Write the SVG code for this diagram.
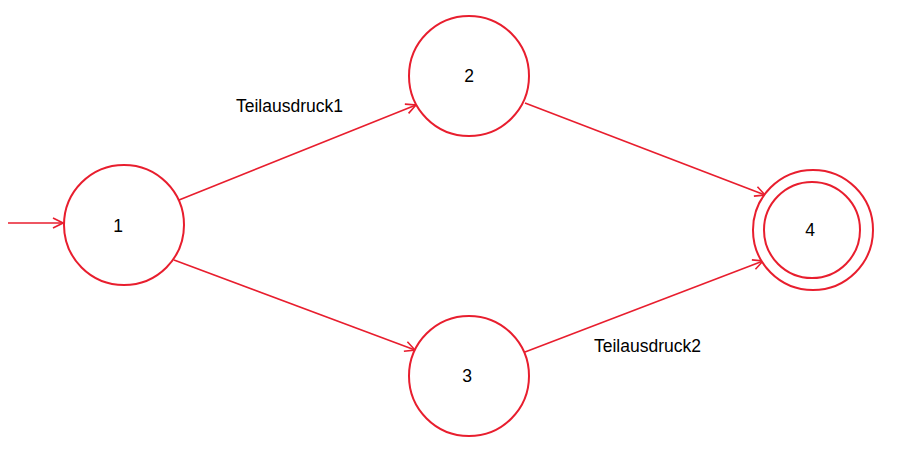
<svg xmlns="http://www.w3.org/2000/svg" width="897" height="449" viewBox="0 0 897 449">
<style>
.st{fill:#fff;stroke:#E81E2E;stroke-width:2}
.ed{stroke:#E81E2E;stroke-width:1.6;fill:none;marker-end:url(#ah)}
.t{font-family:"Liberation Sans",Arial,sans-serif;font-size:17.5px;fill:#000}
.n{text-anchor:middle}
</style>
<defs>
<marker id="ah" viewBox="0 0 12 12" refX="11" refY="6" markerWidth="12" markerHeight="12" markerUnits="userSpaceOnUse" orient="auto">
<path d="M1,1 L11,6 L1,11" fill="none" stroke="#E81E2E" stroke-width="1.6"/>
</marker>
</defs>
<rect width="897" height="449" fill="#fff"/>
<g id="connectors">
<line class="ed" x1="8" y1="223" x2="63" y2="223"/>
<line class="ed" x1="179" y1="200" x2="416" y2="105"/>
<line class="ed" x1="174" y1="260" x2="415" y2="350"/>
<line class="ed" x1="525" y1="103" x2="765" y2="195"/>
<line class="ed" x1="525" y1="352" x2="763" y2="261"/>
</g>
<g id="node1"><circle class="st" cx="124" cy="225" r="60"/><text class="t n" x="118" y="232">1</text></g>
<g id="node2"><circle class="st" cx="469" cy="76" r="60"/><text class="t n" x="469" y="82">2</text></g>
<g id="node3"><circle class="st" cx="469" cy="376" r="60"/><text class="t n" x="467" y="382">3</text></g>
<g id="node4"><circle class="st" cx="813" cy="230" r="60"/><circle class="st" cx="812" cy="230" r="48"/><text class="t n" x="810" y="236">4</text></g>
<text class="t" x="236" y="112">Teilausdruck1</text>
<text class="t" x="594" y="352">Teilausdruck2</text>
</svg>
